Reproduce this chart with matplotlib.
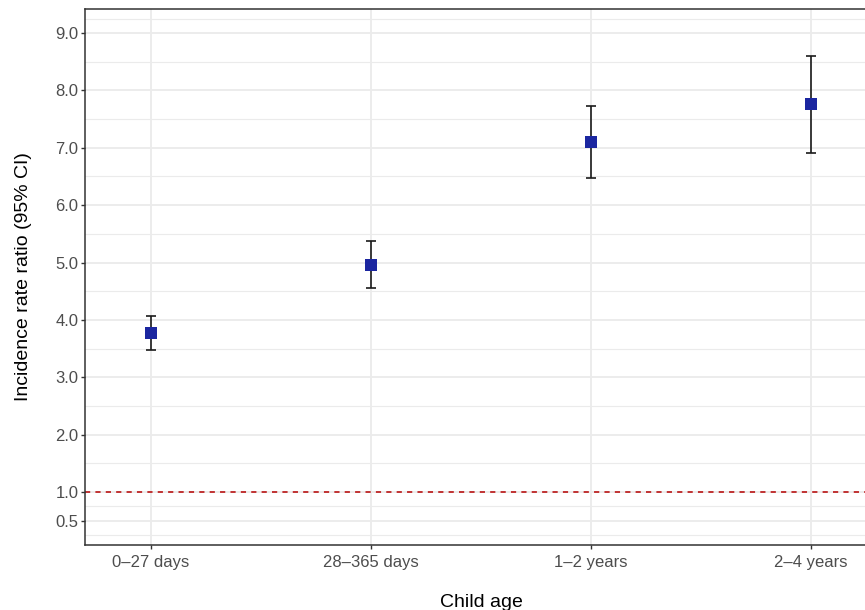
import matplotlib
matplotlib.use("Agg")
import matplotlib.pyplot as plt
import numpy as np

plt.rcParams['font.family'] = ['Liberation Sans', 'DejaVu Sans']

categories = ["0\u201327 days", "28\u2013365 days", "1\u20132 years", "2\u20134 years"]
irr = [3.77, 4.96, 7.10, 7.76]
ci_low = [3.47, 4.55, 6.47, 6.91]
ci_high = [4.07, 5.37, 7.72, 8.60]
y_ticks = [0.5, 1.0, 2.0, 3.0, 4.0, 5.0, 6.0, 7.0, 8.0, 9.0]
y_tick_labels = ["0.5", "1.0", "2.0", "3.0", "4.0", "5.0", "6.0", "7.0", "8.0", "9.0"]
y_minor = [0.25, 0.75, 1.5, 2.5, 3.5, 4.5, 5.5, 6.5, 7.5, 8.5, 9.25]
ref_line = 1.0

W, H = 865, 610
fig = plt.figure(figsize=(W / 100, H / 100), dpi=100)
ax = fig.add_axes([85 / W, (H - 545) / H, (877 - 85) / W, (545 - 8.5) / H])

x = np.arange(len(categories))
ax.set_xlim(-0.3, 3.3)
ax.set_ylim(0.0763, 9.427)

# grid
for m in y_minor:
    ax.axhline(m, color="#EBEBEB", lw=0.8, zorder=0)
for t in y_ticks:
    ax.axhline(t, color="#EBEBEB", lw=1.3, zorder=0)
for xi in x:
    ax.axvline(xi, color="#EBEBEB", lw=1.3, zorder=0)

ax.axhline(ref_line, color="#B50000", lw=1.1, ls=(0, (3.4, 3.4)), zorder=1)

irr_a = np.array(irr)
yerr = [irr_a - np.array(ci_low), np.array(ci_high) - irr_a]
ax.errorbar(x, irr, yerr=yerr, fmt="none", ecolor="#1A1A1A", elinewidth=1.2,
            capsize=3.5, capthick=1.2, zorder=2)
ax.plot(x, irr, ls="none", marker="s", markersize=8.8, color="#1B26A0",
        markeredgewidth=0, zorder=3)

ax.set_xticks(x)
ax.set_xticklabels(categories)
ax.set_yticks(y_ticks)
ax.set_yticklabels(y_tick_labels)
ax.tick_params(axis="both", colors="#333333", labelcolor="#4D4D4D", labelsize=12,
               length=3.2, width=1.0)
ax.tick_params(axis="x", pad=4)
ax.tick_params(axis="y", pad=1.5)

for s in ax.spines.values():
    s.set_color("#333333")
    s.set_linewidth(1.1)

ax.set_xlabel("Child age", fontsize=14, color="black", labelpad=17)
ax.set_ylabel("Incidence rate ratio (95% CI)", fontsize=14, color="black", labelpad=17)

fig.savefig("out.png", dpi=100)
